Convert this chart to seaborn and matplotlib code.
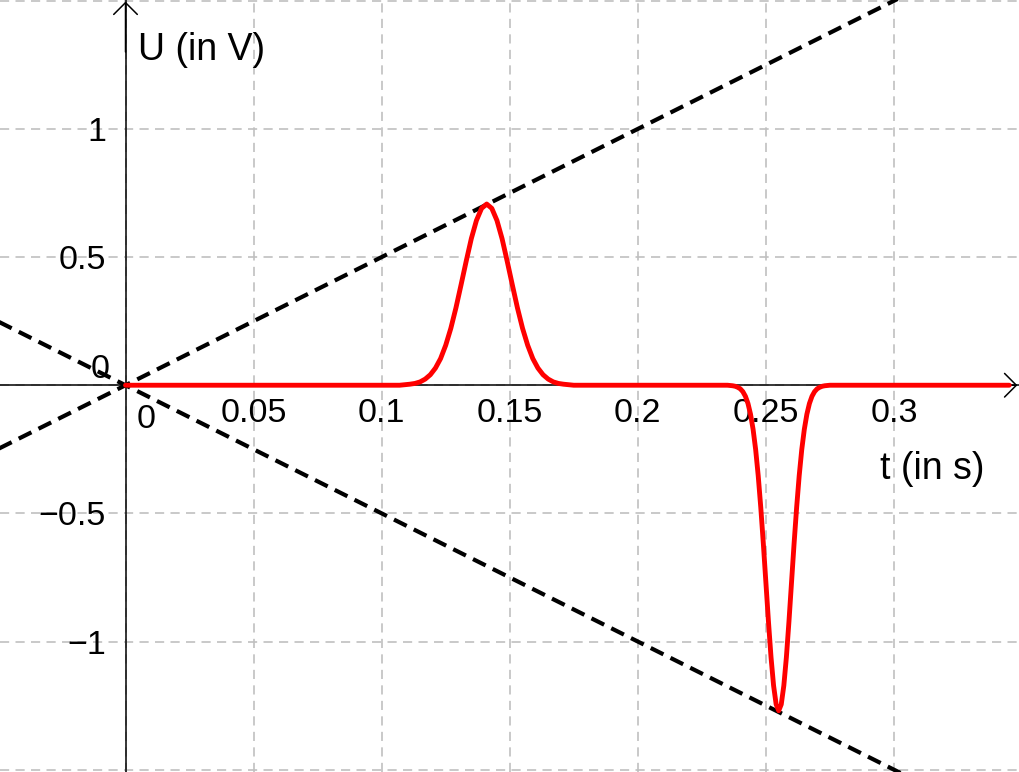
import matplotlib
matplotlib.use("Agg")
import matplotlib.pyplot as plt
import seaborn as sns
import pandas as pd

# ---- data ----
signal_t = [0.0, 0.107,
            0.109, 0.111, 0.113, 0.115, 0.117, 0.119, 0.121, 0.123, 0.125, 0.127, 0.129,
            0.131, 0.133, 0.135, 0.137, 0.139, 0.141, 0.143, 0.145, 0.147, 0.149, 0.151,
            0.153, 0.155, 0.157, 0.159, 0.161, 0.163, 0.165, 0.167, 0.169, 0.171, 0.173,
            0.175, 0.235,
            0.237, 0.238, 0.239, 0.240, 0.241, 0.242, 0.243, 0.244, 0.245, 0.246, 0.247,
            0.248, 0.249, 0.250, 0.251, 0.252, 0.253, 0.254, 0.255, 0.256, 0.257, 0.258,
            0.259, 0.260, 0.261, 0.262, 0.263, 0.264, 0.265, 0.266, 0.267, 0.268, 0.269,
            0.270, 0.271, 0.272, 0.273,
            0.275, 0.345]
signal_U = [0.0, 0.0,
            0.002, 0.004, 0.007, 0.013, 0.024, 0.041, 0.067, 0.104, 0.156, 0.222, 0.302,
            0.392, 0.484, 0.572, 0.643, 0.690, 0.707, 0.690, 0.643, 0.572, 0.484, 0.392,
            0.302, 0.222, 0.156, 0.104, 0.067, 0.041, 0.024, 0.013, 0.007, 0.004, 0.002,
            0.0, 0.0,
            -0.002, -0.004, -0.008, -0.014, -0.025, -0.043, -0.071, -0.113, -0.172, -0.251,
            -0.353, -0.477, -0.618, -0.770, -0.922, -1.061, -1.172, -1.245, -1.270, -1.245,
            -1.172, -1.061, -0.922, -0.770, -0.618, -0.477, -0.353, -0.251, -0.172, -0.113,
            -0.071, -0.043, -0.025, -0.014, -0.008, -0.004, -0.002,
            0.0, 0.0]
envelope_t = [-0.05, 0.35]
envelope_upper = [-0.25, 1.75]
envelope_lower = [0.25, -1.75]

x_ticks = [0, 0.05, 0.1, 0.15, 0.2, 0.25, 0.3]
x_labels = ["", "0.05", "0.1", "0.15", "0.2", "0.25", "0.3"]
y_ticks = [-1.5, -1, -0.5, 0, 0.5, 1, 1.5]
y_labels = ["", "\u22121", "\u22120.5", "", "0.5", "1", ""]

sns.set_style("white")
plt.rcParams['font.family'] = ['Liberation Sans', 'DejaVu Sans']
plt.rcParams['text.color'] = 'black'
plt.rcParams['xtick.color'] = 'black'
plt.rcParams['ytick.color'] = 'black'

fig = plt.figure(figsize=(10.2, 7.72), dpi=100)
ax = fig.add_axes([0, 0, 1, 1])

df_sig = pd.DataFrame({"t": signal_t, "U": signal_U})
df_env = pd.DataFrame({"t": envelope_t + envelope_t,
                       "U": envelope_upper + envelope_lower,
                       "line": ["upper"] * 2 + ["lower"] * 2})

for name in ["upper", "lower"]:
    sub = df_env[df_env["line"] == name]
    sns.lineplot(data=sub, x="t", y="U", ax=ax, color="black", linewidth=3.0,
                 estimator=None, sort=False, zorder=3)
for l in ax.lines:
    l.set_dashes((3.4, 1.9))
sns.lineplot(data=df_sig, x="t", y="U", ax=ax, color="#ff0000", linewidth=3.5,
             estimator=None, sort=False, zorder=4)

ax.set_xlim(-0.049, 0.3492)
ax.set_ylim(-1.509, 1.503)

ax.set_xticks(x_ticks)
ax.set_xticklabels(x_labels)
ax.set_yticks(y_ticks)
ax.set_yticklabels(y_labels)
ax.set_xlabel("")
ax.set_ylabel("")

ax.grid(True, color="#c0c0c0", linestyle=(0, (5.5, 3.8)), linewidth=1.2, zorder=0)
ax.set_axisbelow(True)

for s in ["top", "right"]:
    ax.spines[s].set_visible(False)
ax.spines["bottom"].set_position(("data", 0))
ax.spines["left"].set_position(("data", 0))
for s in ["bottom", "left"]:
    ax.spines[s].set_color("black")
    ax.spines[s].set_linewidth(1.1)
ax.tick_params(axis="both", direction="out", length=5.5, width=1.1, color="black",
               labelsize=24.5, labelcolor="black")
ax.tick_params(axis="x", pad=3.5)
ax.tick_params(axis="y", pad=8.5)

# zero labels placed like the original
ax.annotate("0", xy=(0, 0), xytext=(-11.5, 5), textcoords="offset points",
            ha="right", va="baseline", fontsize=24.5)
ax.annotate("0", xy=(0, 0), xytext=(8, -31), textcoords="offset points",
            ha="left", va="baseline", fontsize=24.5)

# axis titles
ax.text(0.0049, 1.269, "U (in V)", ha="left", va="baseline", fontsize=27)
ax.text(0.3355, -0.366, "t (in s)", ha="right", va="baseline", fontsize=27)

# open arrowheads on the axes
ax.annotate("", xy=(0, 1.497), xytext=(0, 1.3),
            arrowprops=dict(arrowstyle="->,head_length=0.85,head_width=0.85",
                            lw=1.1, color="black", mutation_scale=10,
                            shrinkA=0, shrinkB=0))
ax.annotate("", xy=(0.3482, 0), xytext=(0.32, 0),
            arrowprops=dict(arrowstyle="->,head_length=0.85,head_width=0.85",
                            lw=1.1, color="black", mutation_scale=10,
                            shrinkA=0, shrinkB=0))

fig.savefig("out.png", dpi=100)
